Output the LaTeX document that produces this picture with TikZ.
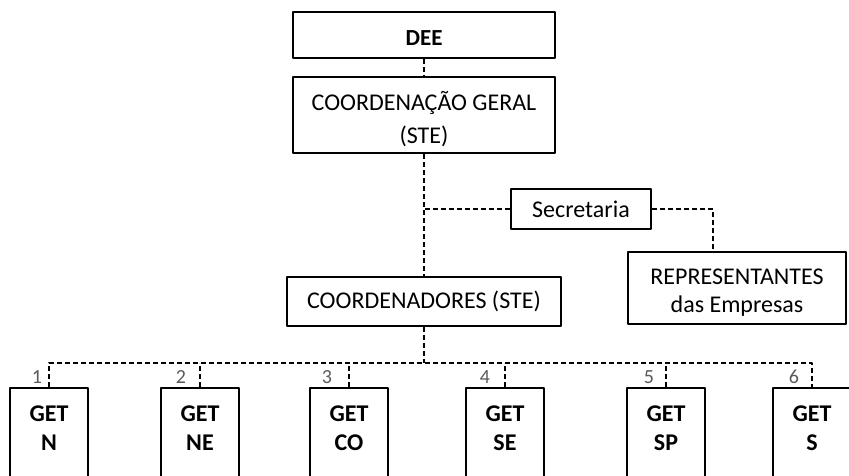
\documentclass[tikz,border=0pt]{standalone}
\usepackage{fontspec}
\setmainfont{Carlito}
\begin{document}
\begin{tikzpicture}[x=1pt,y=-1pt,line join=round,font=\fontsize{24}{28}\selectfont,
		caixa/.style={draw,line width=2pt,align=center,inner sep=0pt},
		liga/.style={line width=2pt,dash pattern=on 5pt off 3pt},
		num/.style={text=black!65,font=\fontsize{20}{20}\selectfont}]
	\useasboundingbox (0,0) rectangle (849,476);
	\clip (0,0) rectangle (849,476);
	% topo
	\node[caixa,minimum width=262,minimum height=46,font=\fontsize{23}{27}\selectfont\bfseries] (dee) at (424,35) {\rule{0pt}{22pt}DEE};
	\node[caixa,minimum width=262,minimum height=76] (geral) at (424,115) {\rule{0pt}{28pt}COORDENAÇÃO GERAL\\[5pt](STE)};
	\node[caixa,minimum width=140,minimum height=40] (secr) at (581,209) {Secretaria};
	\node[caixa,minimum width=218,minimum height=72] (repr) at (737,288) {\rule{0pt}{24pt}REPRESENTANTES\\das Empresas};
	\node[caixa,minimum width=274,minimum height=49] (coord) at (424,301) {COORDENADORES (STE)};
	\draw[liga] (dee.south)--(geral.north);
	\draw[liga] (geral.south)--(geral.south |- coord.north);
	\draw[liga] (secr.west)--(secr.west -| geral.south);
	\draw[liga] (secr.east) -| ([xshift=-24pt]repr.north);
	% GETs
	\coordinate (barra) at (424,363);
	\foreach \x/\sigla/\nx [count=\i] in {49/N/37,200/NE/181,349/CO/327,505/SE/485,666/SP/649,812/S/794}{
		\node[caixa,minimum width=78,minimum height=112] (g\i) at (\x,444) {};
		\node[align=center,font=\fontsize{24}{29}\selectfont\bfseries] (t\i) at (\x,428) {GET\\\sigla};
		\node[num] (n\i) at (\nx,377) {\i};
	}
	\draw[liga] (coord.south)--(barra);
	\draw[liga] (g1.north)--(g1.north |- barra)--(g6.north |- barra)--(g6.north);
	\foreach \i in {2,...,5}{
		\draw[liga] (g\i.north)--(g\i.north |- barra);
	}
\end{tikzpicture}
\end{document}
